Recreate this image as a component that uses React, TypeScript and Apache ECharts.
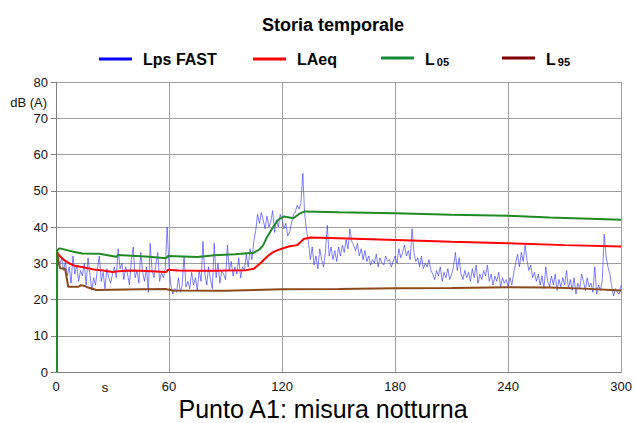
import React, { useEffect, useRef } from "react";
import * as echarts from "echarts";

const FONT = '"Liberation Sans", Arial, Helvetica, sans-serif';

// Tick labels / axis ranges
const xTicks = [0, 60, 120, 180, 240, 300];
const yMin = 0;
const yMax = 80;
const yStep = 10;

// Lps FAST, one value per second (t = index, 0..300 s)
const lpsFast: number[] = [
  32.5, 31, 29.5, 31.5, 28, 30.5, 26.5, 29, 24.5, 32,
  27, 29.5, 25, 28, 26.5, 30, 24, 31.5, 27, 22.5,
  26, 24, 28.5, 32, 25, 27.5, 23, 28.5, 26, 24.5,
  27, 29, 26, 34, 28.5, 30, 25.5, 29, 27, 24,
  31, 34.5, 26, 28, 24.5, 33, 27.5, 25, 29, 22,
  35.5, 28, 26, 29.5, 33, 25, 27.5, 26, 28.5, 40,
  29, 24, 21.5, 23, 22, 26, 22, 24, 32, 23.5,
  25, 23, 27.5, 24, 26, 22.5, 28, 25, 36, 27,
  24, 29, 25.5, 23, 35.5, 26, 30, 24.5, 28, 27,
  25.5, 35, 28, 30.5, 26.5, 29, 27, 31.5, 26, 29,
  28, 32.5, 29, 34, 31, 36, 39, 43.5, 41, 44,
  42, 39.5, 43, 40, 41.5, 44.5, 38.5, 42, 40, 43.5,
  42, 39.5, 41, 37.5, 38.5, 41, 43.5, 44, 46, 45,
  46.5, 54.8, 43.5, 39, 36, 31, 34.5, 29.5, 32, 28.5,
  34, 31, 29, 33, 40.5, 32, 34.5, 31, 33.5, 30.5,
  34.5, 32, 35, 33, 36.5, 34, 39.5, 36, 35, 33.5,
  35.5, 32, 34, 31, 33.5, 30.5, 32, 29.5, 31, 30,
  32.5, 29, 31.5, 30, 29.5, 32, 30.5, 31, 29, 30.5,
  32, 30, 34, 31.5, 33, 35, 32, 33.5, 31, 39.5,
  33, 30.5, 31.5, 29, 32, 28.5, 30, 29, 31, 28,
  27, 25.5, 28, 26.5, 29, 25, 27.5, 26, 28.5, 25.5,
  27, 29, 33, 28, 31.5, 27, 25.5, 28, 26, 27.5,
  25, 28.5, 26, 29.5, 24.5, 27, 25.5, 28, 26.5, 29.5,
  25, 27, 24, 26.5, 25, 27.5, 23.5, 26, 24.5, 25.5,
  23.5, 26, 24, 27.5, 30, 32.5, 29, 33, 30.5, 35,
  31, 28, 29.5, 26, 27.5, 25, 27, 24, 26.5, 23,
  29, 25, 23.5, 26.5, 24, 27, 22.5, 25.5, 23.5, 26,
  24, 28, 23, 25.5, 22.5, 26, 21.5, 24.5, 23, 27,
  25, 22.5, 26, 23.5, 24.5, 22, 29, 21.5, 24, 22.5,
  25.5, 38, 32, 29, 27, 23.5, 21, 23, 22, 21.5,
  24,
];

// LAeq [time s, dB]
const laeq: [number, number][] = [
  [0.5, 33], [2, 32], [4, 31], [7, 30], [10, 29.3], [15, 28.8], [20, 28.3],
  [25, 28], [30, 27.6], [33, 27.8], [40, 28], [45, 27.9], [58.5, 27.6],
  [59.5, 28.2], [65, 28], [75, 27.9], [85, 27.9], [90, 28], [101, 28.1],
  [105, 28.5], [108.5, 30], [112, 31.8], [115, 33], [118, 33.7], [121, 34.2],
  [123.5, 34.6], [128, 35], [130, 35.9], [131.5, 36.7], [135, 37.1],
  [150, 36.9], [180, 36.4], [210, 35.9], [240, 35.5], [270, 35], [300, 34.6],
];

// L05 [time s, dB]
const l05: [number, number][] = [
  [0.5, 0], [0.6, 33.6], [2, 34.1], [9, 33.2], [14, 32.7], [23, 32.6],
  [32, 31.8], [33, 32.3], [49.5, 31.8], [58.5, 31.4], [59.5, 32], [75, 31.7],
  [84, 32.2], [95, 32.5], [105, 32.9], [108, 33.8], [110, 35], [112, 37.2],
  [115, 39.8], [118, 42], [121, 42.9], [124, 42.6], [126, 42.4], [129, 43.6],
  [132, 44.3], [150, 44.1], [180, 43.8], [210, 43.4], [240, 43.1], [262, 42.6],
  [300, 42],
];

// L95 [time s, dB]
const l95: [number, number][] = [
  [0.5, 33.5], [1.5, 30], [2.2, 28.6], [4.8, 28.5], [6.5, 23.5], [12, 23.5],
  [13, 23.9], [15.5, 23.7], [17, 23.3], [21.5, 22.6], [45, 22.8], [58, 22.9],
  [62, 22.5], [90, 22.4], [120, 22.8], [150, 22.9], [180, 23.1], [210, 23.2],
  [240, 23.4], [262, 23.3], [280, 23], [300, 22.5],
];

const seriesNames = ["Lps FAST", "LAeq", "L05", "L95"];
const legendColors = ["#0000ff", "#ff0000", "#178a3a", "#800000"];
const lineColors = ["#3a3aff", "#ff0000", "#1f8a25", "#8b4a1c"];

export default function App() {
  const ref = useRef<HTMLDivElement>(null);

  useEffect(() => {
    if (!ref.current) return;
    const chart = echarts.init(ref.current, undefined, { renderer: "svg" });

    const legendLefts = [99, 253, 381, 502];
    const legends = seriesNames.map((name, i) => ({
      show: true,
      selectedMode: false,
      left: legendLefts[i],
      top: 51,
      padding: 0,
      icon: "rect",
      itemWidth: 33,
      itemHeight: 3,
      data: [{ name, itemStyle: { color: legendColors[i] } }],
      formatter: (n: string) => {
        if (n === "L05") return "{a|L}{b|05}";
        if (n === "L95") return "{a|L}{b|95}";
        return n;
      },
      textStyle: {
        fontFamily: FONT,
        fontSize: 16,
        fontWeight: "bold",
        color: "#000",
        padding: [0, 0, 0, 6],
        rich: {
          a: { fontFamily: FONT, fontSize: 16, fontWeight: "bold", color: "#000", verticalAlign: "bottom", lineHeight: 18 },
          b: { fontFamily: FONT, fontSize: 11, fontWeight: "bold", color: "#000", verticalAlign: "bottom", lineHeight: 18, padding: [0, 0, 0, 2] },
        },
      },
    }));

    const option: any = {
      animation: false,
      backgroundColor: "#ffffff",
      title: [
        {
          text: "Storia temporale",
          left: 328,
          top: 11,
          textAlign: "center",
          textStyle: { fontFamily: FONT, fontSize: 18, fontWeight: "bold", color: "#000" },
        },
        {
          text: "Punto A1: misura notturna",
          left: 323,
          top: 397,
          padding: 0,
          textAlign: "center",
          textStyle: { fontFamily: FONT, fontSize: 25, fontWeight: "normal", color: "#000", lineHeight: 24 },
        },
      ],
      legend: legends,
      grid: { left: 56, right: 11, top: 82, bottom: 51, containLabel: false },
      xAxis: {
        type: "value",
        min: xTicks[0],
        max: xTicks[xTicks.length - 1],
        interval: 60,
        axisLine: { show: true, lineStyle: { color: "#808080", width: 1 } },
        axisTick: { show: false },
        axisLabel: { fontFamily: FONT, fontSize: 13, color: "#111", margin: 8 },
        splitLine: { show: true, lineStyle: { color: "#a0a0a0", width: 1 } },
      },
      yAxis: {
        type: "value",
        min: yMin,
        max: yMax,
        interval: yStep,
        axisLine: { show: true, lineStyle: { color: "#808080", width: 1 } },
        axisTick: { show: true, length: 5, lineStyle: { color: "#808080" } },
        axisLabel: { fontFamily: FONT, fontSize: 13, color: "#111", margin: 8 },
        splitLine: { show: true, lineStyle: { color: "#a0a0a0", width: 1 } },
      },
      graphic: [
        {
          type: "text",
          x: 47,
          y: 102,
          style: { text: "dB (A)", fontFamily: FONT, fontSize: 13, fill: "#111", align: "right", verticalAlign: "middle" },
        },
        {
          type: "text",
          x: 105,
          y: 387,
          style: { text: "s", fontFamily: FONT, fontSize: 13, fill: "#111", align: "center", verticalAlign: "middle" },
        },
      ],
      series: [
        {
          name: "Lps FAST",
          type: "line",
          data: lpsFast.map((v, i) => [i, v]),
          symbol: "none",
          z: 2,
          itemStyle: { color: legendColors[0] },
          lineStyle: { color: lineColors[0], width: 1, opacity: 0.65 },
        },
        {
          name: "L95",
          type: "line",
          data: l95,
          symbol: "none",
          z: 3,
          itemStyle: { color: legendColors[3] },
          lineStyle: { color: lineColors[3], width: 2 },
        },
        {
          name: "LAeq",
          type: "line",
          data: laeq,
          symbol: "none",
          z: 4,
          itemStyle: { color: legendColors[1] },
          lineStyle: { color: lineColors[1], width: 2 },
        },
        {
          name: "L05",
          type: "line",
          data: l05,
          symbol: "none",
          z: 5,
          itemStyle: { color: legendColors[2] },
          lineStyle: { color: lineColors[2], width: 2 },
        },
      ],
    };

    chart.setOption(option);
    return () => chart.dispose();
  }, []);

  return (
    <div
      ref={ref}
      style={{ position: "fixed", left: 0, top: 0, width: 635, height: 423 }}
    />
  );
}
